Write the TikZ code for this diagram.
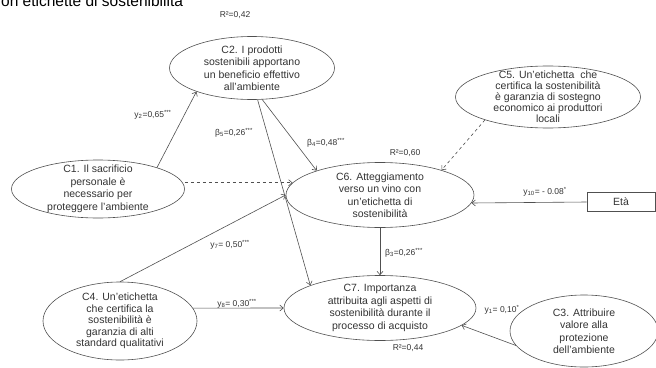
\documentclass[tikz,border=0pt]{standalone}
\usepackage{fontspec}
\setmainfont{Liberation Sans}
\usetikzlibrary{shapes.geometric,arrows.meta}

\definecolor{lineGray}{HTML}{505050}
\definecolor{textGray}{HTML}{333333}

\begin{document}
\begin{tikzpicture}[x=1pt, y=-1pt,
    >={Straight Barb[length=3.5pt,width=6pt]},
    construct/.style={ellipse, draw=lineGray, line width=0.6pt, align=center, inner xsep=0pt, inner ysep=-4pt, text=textGray, font=\fontsize{10.5}{12.5}\selectfont},
    coef/.style={text=textGray, font=\fontsize{8.5}{10}\selectfont, inner sep=1pt},
    path/.style={->, lineGray, line width=0.6pt},
    weak/.style={->, lineGray, line width=0.6pt, dashed}]
    \useasboundingbox (0,0) rectangle (656,367);
    \clip (0,0) rectangle (656,367);

    % Title (cut at the top)
    \node[anchor=base west, inner sep=0pt, font=\fontsize{15.5}{17}\selectfont] (title) at (1,6) {on etichette di sostenibilità};

    % Constructs
    \node[construct, minimum width=165, minimum height=63] (C2) at (252,68) {C2. I prodotti\\sostenibili apportano\\un beneficio effettivo\\all'ambiente};
    \node[construct, minimum width=185, minimum height=62, font=\fontsize{10.5}{11}\selectfont] (C5) at (548,97) {C5. Un'etichetta\ \ che\\certifica la sostenibilità\\è garanzia di sostegno\\economico ai produttori\\locali};
    \node[construct, minimum width=173, minimum height=58] (C1) at (98,189) {C1. Il sacrificio\\personale è\\necessario per\\proteggere l'ambiente};
    \node[construct, minimum width=188, minimum height=65] (C6) at (380,195) {C6. Atteggiamento\\verso un vino con\\un'etichetta di\\sostenibilità};
    \node[construct, minimum width=154, minimum height=78, font=\fontsize{10.5}{11.5}\selectfont] (C4) at (120,321) {C4. Un'etichetta\\che certifica la\\sostenibilità è\\garanzia di alti\\standard qualitativi};
    \node[construct, minimum width=192, minimum height=65] (C7) at (380,308) {C7. Importanza\\attribuita agli aspetti di\\sostenibilità durante il\\processo di acquisto};
    \node[construct, minimum width=148, minimum height=72] (C3) at (584,331) {C3. Attribuire\\valore alla\\protezione\\dell'ambiente};
    \node[draw=lineGray, line width=0.6pt, minimum width=68, minimum height=19, inner sep=0pt, text=textGray, font=\fontsize{10.5}{12}\selectfont] (eta) at (621,202) {Età};

    % R squared
    \node[coef] (r2C2) at (235,15) {R²=0,42};
    \node[coef] (r2C6) at (405,153) {R²=0,60};
    \node[coef] (r2C7) at (408,348) {R²=0,44};

    % Paths
    \draw[path] (C1.20) -- (C2.203);
    \draw[path] (C2.-80) -- (C7.162);
    \draw[path] (C2.-72) -- (C6.159);
    \draw[weak] (C1.east |- C6.172) -- (C6.172);
    \draw[weak] (C5.200) -- (C6.22);
    \draw[path] (C4.north) -- (C6.west);
    \draw[path] (C4.10) -- (C7.west);
    \draw[path] (C6.south) -- (C7.north);
    \draw[path] (eta.west) -- (C6.-5);
    \draw[path] (C3.192) -- (C7.-12);

    % Coefficients
    \node[coef] (g2) at (153,115) {y\textsubscript{2}=0,65\textsuperscript{***}};
    \node[coef] (b5) at (234,133) {β\textsubscript{5}=0,26\textsuperscript{***}};
    \node[coef] (b4) at (326,143) {β\textsubscript{4}=0,48\textsuperscript{***}};
    \node[coef] (g7) at (230,245) {y\textsubscript{7}= 0,50\textsuperscript{***}};
    \node[coef] (g8) at (237,304) {y\textsubscript{8}= 0,30\textsuperscript{***}};
    \node[coef] (b3) at (404,253) {β\textsubscript{3}=0,26\textsuperscript{***}};
    \node[coef] (g10) at (545,192) {y\textsubscript{10}= - 0.08\textsuperscript{*}};
    \node[coef] (g1) at (502,310) {y\textsubscript{1}= 0,10\textsuperscript{*}};
\end{tikzpicture}
\end{document}
